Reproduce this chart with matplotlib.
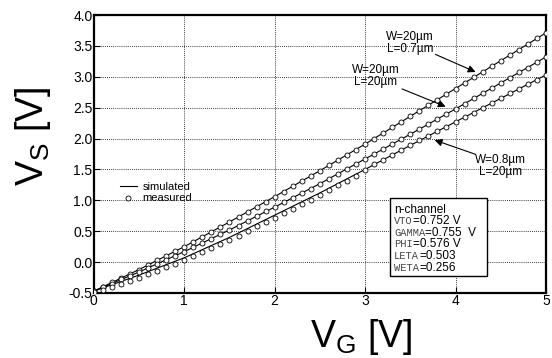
import numpy as np
import matplotlib
matplotlib.use("Agg")
import matplotlib.pyplot as plt
from matplotlib.patches import Rectangle

plt.rcParams["font.family"] = ["Liberation Sans", "DejaVu Sans"]
plt.rcParams["axes.unicode_minus"] = False
plt.rcParams["mathtext.default"] = "regular"

# simulated source voltage, every 0.5 V of gate voltage
vg_sim = [0.0, 0.5, 1.0, 1.5, 2.0, 2.5, 3.0, 3.5, 4.0, 4.5, 5.0]
vs_sim_short = [-0.47, -0.12, 0.25, 0.65, 1.06, 1.48, 1.91, 2.36, 2.81, 3.26, 3.71]
vs_sim_long = [-0.47, -0.16, 0.17, 0.52, 0.89, 1.27, 1.67, 2.07, 2.48, 2.90, 3.32]
vs_sim_narrow = [-0.47, -0.21, 0.07, 0.40, 0.76, 1.12, 1.50, 1.89, 2.27, 2.65, 3.03]

# measured points, 0.1 V steps
vg_meas = [i / 10 for i in range(51)]
vs_meas_short = [
    -0.47, -0.40, -0.33, -0.26, -0.19, -0.12, -0.05, 0.03, 0.10, 0.18, 0.25,
    0.33, 0.41, 0.49, 0.57, 0.65, 0.73, 0.81, 0.90, 0.98, 1.06,
    1.14, 1.23, 1.31, 1.40, 1.48, 1.57, 1.65, 1.74, 1.82, 1.91,
    2.00, 2.09, 2.18, 2.27, 2.36, 2.45, 2.54, 2.63, 2.72, 2.81,
    2.90, 2.99, 3.08, 3.17, 3.26, 3.35, 3.44, 3.53, 3.62, 3.71]
vs_meas_long = [
    -0.47, -0.41, -0.35, -0.28, -0.22, -0.16, -0.09, -0.03, 0.04, 0.10, 0.17,
    0.24, 0.31, 0.38, 0.45, 0.52, 0.59, 0.67, 0.74, 0.82, 0.89,
    0.97, 1.04, 1.12, 1.19, 1.27, 1.35, 1.43, 1.51, 1.59, 1.67,
    1.75, 1.83, 1.91, 1.99, 2.07, 2.15, 2.23, 2.32, 2.40, 2.48,
    2.56, 2.65, 2.73, 2.82, 2.90, 2.98, 3.07, 3.15, 3.24, 3.32]
vs_meas_narrow = [
    -0.48, -0.45, -0.41, -0.35, -0.30, -0.25, -0.19, -0.14, -0.08, -0.03, 0.03,
    0.10, 0.16, 0.23, 0.29, 0.36, 0.43, 0.50, 0.58, 0.65, 0.72,
    0.79, 0.86, 0.94, 1.01, 1.08, 1.16, 1.24, 1.32, 1.40, 1.49,
    1.58, 1.66, 1.73, 1.81, 1.89, 1.97, 2.04, 2.12, 2.19, 2.27,
    2.35, 2.42, 2.50, 2.57, 2.65, 2.73, 2.80, 2.88, 2.95, 3.03]

param_names = ["VTO", "GAMMA", "PHI", "LETA", "WETA"]
param_values = ["=0.752 V", "=0.755  V", "=0.576 V", "=0.503", "=0.256"]

fig = plt.figure(figsize=(5.52, 3.58), dpi=100)
ax = fig.add_axes([0.170, 0.1816, 0.819, 0.7765])

for i, (sim, meas) in enumerate([(vs_sim_short, vs_meas_short),
                                 (vs_sim_long, vs_meas_long),
                                 (vs_sim_narrow, vs_meas_narrow)]):
    ax.plot(vg_sim, sim, color="k", lw=0.8,
            label="simulated" if i == 0 else None, zorder=3)
    ax.plot(vg_meas, meas, ls="none", marker="o", ms=3.6, mfc="white",
            mec="k", mew=0.6, label="measured" if i == 0 else None, zorder=4)

ax.set_xlim(0, 5)
ax.set_ylim(-0.5, 4.0)
ax.set_xticks(np.arange(0, 6, 1))
ax.set_yticks(np.arange(-0.5, 4.01, 0.5))
ax.set_yticklabels([f"{v:.1f}" for v in np.arange(-0.5, 4.01, 0.5)])
ax.tick_params(direction="in", length=4, width=0.8, labelsize=10, pad=1,
               top=False, right=False)
ax.grid(True, color="k", ls=(0, (1, 1.5)), lw=0.6)
for s in ax.spines.values():
    s.set_linewidth(1.6)

ax.legend(loc="upper left", bbox_to_anchor=(0.058, 0.40), frameon=False,
          fontsize=8, handlelength=1.5, handletextpad=0.5, labelspacing=0.15,
          borderaxespad=0, borderpad=0)

# device labels with arrows
ax.text(3.50, 3.55, "W=20µm\nL=0.7µm", ha="center", va="center", fontsize=8.5,
        linespacing=0.95, zorder=6)
ax.annotate("", xy=(4.25, 3.06), xytext=(3.75, 3.38),
            arrowprops=dict(arrowstyle="-|>", color="k", lw=0.8, mutation_scale=11))
ax.text(3.12, 3.01, "W=20µm\nL=20µm", ha="center", va="center", fontsize=8.5,
        linespacing=0.95, zorder=6)
ax.annotate("", xy=(3.92, 2.50), xytext=(3.38, 2.82),
            arrowprops=dict(arrowstyle="-|>", color="k", lw=0.8, mutation_scale=11))
ax.text(4.50, 1.56, "W=0.8µm\nL=20µm", ha="center", va="center", fontsize=8.5,
        linespacing=0.95, zorder=6)
ax.annotate("", xy=(3.74, 1.99), xytext=(4.25, 1.73),
            arrowprops=dict(arrowstyle="-|>", color="k", lw=0.8, mutation_scale=11))

# parameter box
ax.add_patch(Rectangle((3.27, -0.22), 1.08, 1.26, facecolor="white",
                       edgecolor="k", lw=1.0, zorder=5))
ax.text(3.32, 0.85, "n-channel", fontsize=8.5, va="center", zorder=6)
for k, (name, val) in enumerate(zip(param_names, param_values)):
    y = 0.66 - k * 0.187
    t = ax.text(3.32, y, name, fontsize=7.5, family="Liberation Mono",
                color="#444444", va="center", zorder=6)
    ax.annotate(val, xy=(1, 0.5), xycoords=t, va="center", fontsize=8.5,
                zorder=6)

fig.text(0.06, 0.62, "V$_S$ [V]", rotation=90, fontsize=27,
         ha="center", va="center")
fig.text(0.655, 0.06, "V$_G$ [V]", fontsize=27, ha="center", va="center")

fig.savefig("out.png", dpi=100)
